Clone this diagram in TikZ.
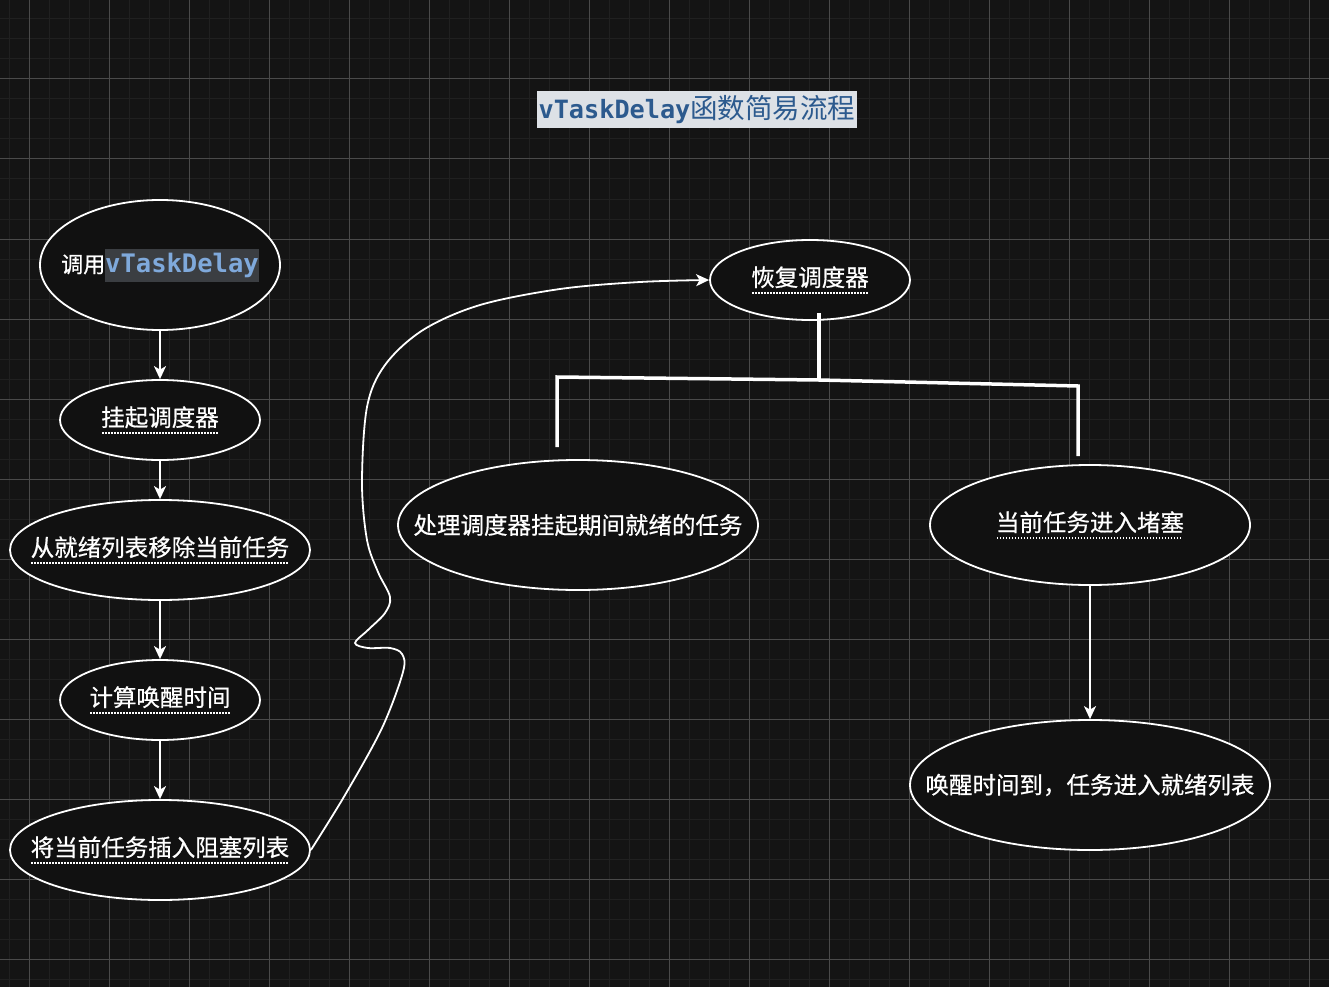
\documentclass[tikz,border=0pt]{standalone}
\usepackage{fontspec}
\setmainfont{Noto Sans CJK SC}
\newfontfamily\cjk{Noto Sans CJK SC}[FakeBold=0.6]
\newfontfamily\cjkt{Noto Sans CJK SC}
\newfontfamily\monof{DejaVu Sans Mono}
\usetikzlibrary{shapes.geometric,arrows.meta}
\definecolor{bg}{HTML}{141414}
\definecolor{minorc}{HTML}{202020}
\definecolor{majorc}{HTML}{4a4a4a}
\definecolor{nodefill}{HTML}{111111}
\definecolor{titlebg}{HTML}{DDE1E6}
\definecolor{titlefg}{HTML}{2C5A8E}
\definecolor{codebg}{HTML}{3B3E42}
\definecolor{codefg}{HTML}{7FA9DB}
\newsavebox\ulbox
\newcommand\dul[1]{\sbox\ulbox{#1}\usebox\ulbox\llap{\raisebox{-7.5pt}{\hbox to \wd\ulbox{\leaders\hbox to 3pt{\hss\rule{1.6pt}{1.6pt}\hss}\hfill}}}}
\tikzset{
  ell/.style={ellipse, draw=white, line width=1.8pt, fill=nodefill, inner sep=0pt},
  txt/.style={text=white, font=\cjk\fontsize{23.5}{28}\selectfont, inner sep=0pt},
  arr/.style={-{Stealth[length=13pt,width=12pt,inset=3.5pt]}, draw=white, line width=1.8pt},
  bracket/.style={draw=white, line width=3.5pt},
  minorline/.style={draw=minorc, line width=1pt},
  majorline/.style={draw=majorc, line width=1pt}
}
\begin{document}
\begin{tikzpicture}[x=1pt,y=-1pt]
\fill[bg] (0,0) rectangle (1329,987);
\useasboundingbox (0,0) rectangle (1329,987);
% grid
\foreach \x in {9,29,...,1329} \draw[minorline] (\x,0) -- (\x,987);
\foreach \y in {19,39,...,987} \draw[minorline] (0,\y) -- (1329,\y);
\foreach \x in {29,109,...,1329} \draw[majorline] (\x,0) -- (\x,987);
\foreach \y in {79,159,...,987} \draw[majorline] (0,\y) -- (1329,\y);

% title
\node[fill=titlebg, text=titlefg, inner xsep=2pt, inner ysep=0pt, minimum height=37pt] (title) at (697,109.5)
  {{\monof\bfseries\fontsize{25.2}{30}\selectfont vTaskDelay}{\cjkt\fontsize{27.5}{32}\selectfont 函数简易流程}};

% nodes
\node[ell, minimum width=240pt, minimum height=130pt] (n1) at (160,265) {};
\node[ell, minimum width=200pt, minimum height=80pt] (n2) at (160,420) {};
\node[ell, minimum width=300pt, minimum height=100pt] (n3) at (160,550) {};
\node[ell, minimum width=200pt, minimum height=80pt] (n4) at (160,700) {};
\node[ell, minimum width=300pt, minimum height=100pt] (n5) at (160,850) {};
\node[ell, minimum width=200pt, minimum height=80pt] (n6) at (810,280) {};
\node[ell, minimum width=360pt, minimum height=130pt] (n7) at (578,525) {};
\node[ell, minimum width=320pt, minimum height=120pt] (n8) at (1090,525) {};
\node[ell, minimum width=360pt, minimum height=130pt] (n9) at (1090,785) {};

\node[txt] (t1) at (n1) {{\fontsize{22}{26}\selectfont 调用}{\setlength\fboxsep{0pt}\colorbox{codebg}{\rule[-9pt]{0pt}{33pt}\color{codefg}\monof\bfseries\fontsize{25.5}{30}\selectfont vTaskDelay}}};
\node[txt] (t2) at (n2) {\dul{挂起调度器}};
\node[txt] (t3) at (n3) {\dul{从就绪列表移除当前任务}};
\node[txt] (t4) at (n4) {\dul{计算唤醒时间}};
\node[txt] (t5) at (n5) {\dul{将当前任务插入阻塞列表}};
\node[txt] (t6) at (n6) {\dul{恢复调度器}};
\node[txt] (t7) at (n7) {处理调度器挂起期间就绪的任务};
\node[txt] (t8) at (n8) {\dul{当前任务进入堵塞}};
\node[txt] (t9) at (n9) {唤醒时间到，任务进入就绪列表};

% arrows
\draw[arr] (n1.south) -- (n2.north);
\draw[arr] (n2.south) -- (n3.north);
\draw[arr] (n3.south) -- (n4.north);
\draw[arr] (n4.south) -- (n5.north);
\draw[arr] (n8.south) -- (n9.north);

% curved connector
\draw[arr] plot[smooth, tension=0.55] coordinates {(n5.east) (345,795) (382,728) (403,672) (402,654) (390,648) (368,648) (355,643) (368,630) (385,613) (390,597) (378,572) (367,540) (362,483) (367,407) (385,365) (423,330) (480,305) (560,289) (640,282) (n6.west)};

% bracket connector
\coordinate (bm) at (819,380);
\coordinate (bl) at (557,377);
\coordinate (br) at (1078,386);
\coordinate (bld) at (557,447);
\coordinate (brd) at (1078,456);
\draw[bracket] ([xshift=9pt,yshift=8pt]n6.south) -- (bm);
\draw[bracket, line join=miter] (bld) -- (bl) -- (bm) -- (br) -- (brd);
\end{tikzpicture}
\end{document}
